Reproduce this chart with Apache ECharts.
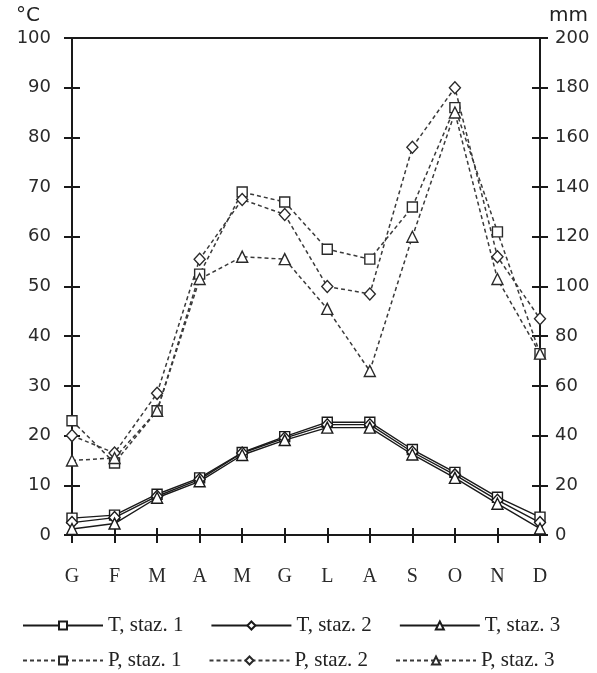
<!DOCTYPE html>
<html>
<head>
<meta charset="utf-8">
<script src="https://cdn.jsdelivr.net/npm/echarts@6/dist/echarts.min.js"></script>
<style>
html,body{margin:0;padding:0;background:#fff;}
#c{width:597px;height:673px;}
</style>
</head>
<body>
<div id="c"></div>
<script>
// Data
var months = ['G','F','M','A','M','G','L','A','S','O','N','D'];
var tempTicks = [0,10,20,30,40,50,60,70,80,90,100];
var rainTicks = [0,20,40,60,80,100,120,140,160,180,200];
var T1 = [3.4, 4.0, 8.2, 11.5, 16.6, 19.8, 22.7, 22.7, 17.2, 12.6, 7.6, 3.6];
var T2 = [2.5, 3.5, 7.8, 11.2, 16.5, 19.5, 22.2, 22.2, 16.7, 12.1, 7.0, 2.5];
var T3 = [1.2, 2.3, 7.5, 10.8, 16.1, 19.1, 21.6, 21.6, 16.2, 11.5, 6.3, 1.3];
var P1 = [46, 29, 50, 105, 138, 134, 115, 111, 132, 172, 122, 73];
var P2 = [40, 33, 57, 111, 135, 129, 100, 97, 156, 180, 112, 87];
var P3 = [30, 31, 50, 103, 112, 111, 91, 66, 120, 170, 103, 73];

var serif = 'Liberation Serif';
var sans = 'DejaVu Sans';
var ink = '#1a1a1a';

function tSeries(name, data, sym, size) {
  return {
    name: name, type: 'line', data: data, xAxisIndex: 0, yAxisIndex: 0,
    symbol: sym, symbolSize: size, z: 4,
    lineStyle: {color: ink, width: 1.4, type: 'solid'},
    itemStyle: {color: '#fff', borderColor: ink, borderWidth: 1.4},
    animation: false
  };
}
function pSeries(name, data, sym, size) {
  return {
    name: name, type: 'line', data: data, xAxisIndex: 0, yAxisIndex: 1,
    symbol: sym, symbolSize: size, z: 3,
    lineStyle: {color: '#3a3a3a', width: 1.5, type: [4, 3]},
    itemStyle: {color: '#fff', borderColor: '#2a2a2a', borderWidth: 1.4},
    animation: false
  };
}

var chart = echarts.init(document.getElementById('c'), null, {renderer: 'canvas'});
var axisLine = {show: true, lineStyle: {color: ink, width: 2}};
var yBase = function (pos, max, interval, inside, labels, name) {
  return {
    type: 'value', position: pos, min: 0, max: max, interval: interval,
    name: name || '', nameLocation: 'end', nameGap: 12,
    nameTextStyle: pos === 'left'
      ? {fontFamily: sans, fontSize: 20, color: '#222', align: 'right', padding: [0, 32, 0, 0]}
      : {fontFamily: sans, fontSize: 20, color: '#222', align: 'left', padding: [0, 0, 0, 9]},
    axisLine: labels ? axisLine : {show: false},
    axisTick: {show: true, inside: inside, length: 8, lineStyle: {color: ink, width: 2}},
    axisLabel: {show: labels, fontFamily: sans, fontSize: 18, color: '#2a2a2a',
      margin: pos === 'left' ? 21 : 15},
    splitLine: {show: false}
  };
};

var legendText = {fontFamily: serif, fontSize: 21, color: '#222'};

chart.setOption({
  backgroundColor: '#fff',
  animation: false,
  grid: {left: 72, right: 57, top: 38, bottom: 138, show: true,
    borderColor: ink, borderWidth: 2, backgroundColor: 'transparent'},
  legend: [
    {data: ['T, staz. 1', 'T, staz. 2', 'T, staz. 3'], left: 17, top: 610,
     itemWidth: 80, itemHeight: 10, itemGap: 27, selectedMode: false,
     textStyle: legendText},
    {data: ['P, staz. 1', 'P, staz. 2', 'P, staz. 3'], left: 17, top: 645,
     itemWidth: 80, itemHeight: 10, itemGap: 27, selectedMode: false,
     textStyle: legendText}
  ],
  xAxis: [
    {type: 'category', data: months, boundaryGap: false, position: 'bottom',
     axisLine: axisLine,
     axisTick: {show: true, inside: false, length: 8, alignWithLabel: true, lineStyle: {color: ink, width: 2}},
     axisLabel: {fontFamily: serif, fontSize: 20, color: '#2a2a2a', margin: 32, interval: 0},
     splitLine: {show: false}},
    {type: 'category', data: months, boundaryGap: false, position: 'bottom',
     axisLine: {show: false},
     axisTick: {show: true, inside: true, length: 7, lineStyle: {color: ink, width: 2}},
     axisLabel: {show: false}, splitLine: {show: false}}
  ],
  yAxis: [
    yBase('left', 100, 10, false, true, '°C'),
    yBase('right', 200, 20, false, true, 'mm'),
    yBase('left', 100, 10, true, false),
    yBase('right', 200, 20, true, false)
  ],
  series: [
    pSeries('P, staz. 1', P1, 'rect', 10),
    pSeries('P, staz. 2', P2, 'diamond', [11, 12]),
    pSeries('P, staz. 3', P3, 'triangle', 11),
    tSeries('T, staz. 1', T1, 'rect', 10),
    tSeries('T, staz. 2', T2, 'diamond', [11, 12]),
    tSeries('T, staz. 3', T3, 'triangle', 11)
  ]
});
</script>
</body>
</html>
